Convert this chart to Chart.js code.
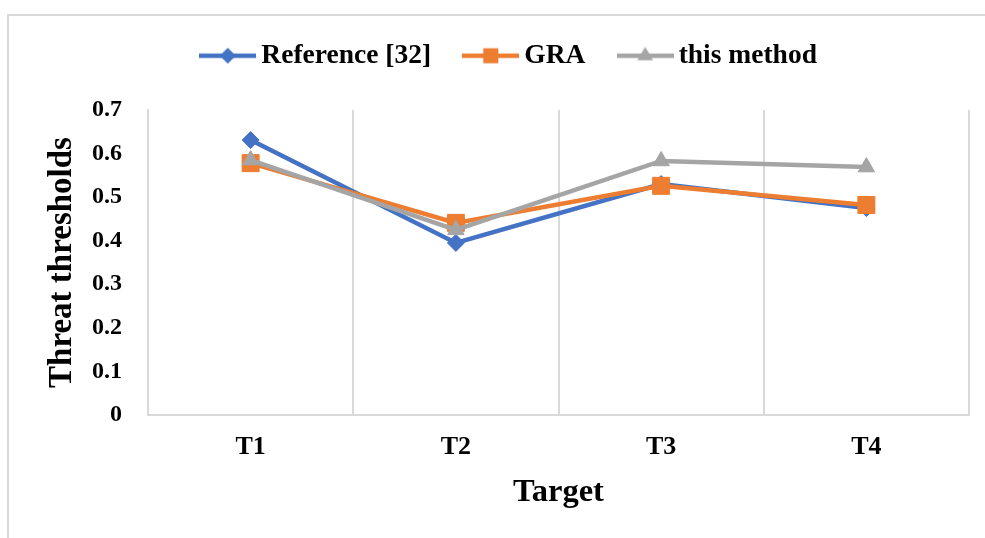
<!DOCTYPE html>
<html>
<head>
<meta charset="utf-8">
<script src="https://cdn.jsdelivr.net/npm/chart.js@4/dist/chart.umd.min.js"></script>
<style>
  html, body { margin: 0; padding: 0; background: #fff; overflow: hidden; }
  #wrap { position: relative; width: 985px; height: 538px; }
  #frame { position: absolute; left: 7px; top: 14px; width: 1000px; height: 600px; border: 2px solid #d9d9d9; box-sizing: border-box; }
  #c { position: absolute; left: 0; top: 0; }
</style>
</head>
<body>
<div id="wrap">
  <div id="frame"></div>
  <canvas id="c" width="985" height="538"></canvas>
</div>
<script>
const categories = ['T1', 'T2', 'T3', 'T4'];
const seriesNames = ['Reference [32]', 'GRA', 'this method'];
const referenceValues = [0.631, 0.395, 0.530, 0.475];
const graValues = [0.578, 0.441, 0.526, 0.482];
const methodValues = [0.585, 0.425, 0.583, 0.569];
const yTickLabels = ['0', '0.1', '0.2', '0.3', '0.4', '0.5', '0.6', '0.7'];

const BLUE = '#4472C4', ORANGE = '#ED7D31', GRAY = '#A5A5A5';
const FONT = 'Liberation Serif, Times New Roman, serif';

function makeIcon(color, shape) {
  const w = 57, h = 24;
  const cv = document.createElement('canvas');
  cv.width = w; cv.height = h;
  const ctx = cv.getContext('2d');
  const cy = h / 2, cx = w / 2;
  ctx.strokeStyle = color; ctx.fillStyle = color;
  ctx.lineWidth = 4.5;
  ctx.beginPath(); ctx.moveTo(0, cy); ctx.lineTo(w, cy); ctx.stroke();
  ctx.beginPath();
  if (shape === 'diamond') {
    const r = 8;
    ctx.moveTo(cx - r, cy); ctx.lineTo(cx, cy - r); ctx.lineTo(cx + r, cy); ctx.lineTo(cx, cy + r);
  } else if (shape === 'square') {
    const s = 7.5;
    ctx.rect(cx - s, cy - s, 2 * s, 2 * s);
  } else {
    const r = 9;
    ctx.moveTo(cx, cy - r); ctx.lineTo(cx + r * 0.866, cy + r * 0.5); ctx.lineTo(cx - r * 0.866, cy + r * 0.5);
  }
  ctx.closePath(); ctx.fill();
  return cv;
}
const icons = [makeIcon(BLUE, 'diamond'), makeIcon(ORANGE, 'square'), makeIcon(GRAY, 'triangle')];

const legendSpacer = {
  id: 'legendSpacer',
  beforeInit(chart) {
    const fit = chart.legend.fit;
    chart.legend.fit = function () { fit.call(this); this.height = 108; };
  }
};

new Chart(document.getElementById('c'), {
  type: 'line',
  data: {
    labels: categories,
    datasets: [
      { label: seriesNames[0], data: referenceValues, borderColor: BLUE, backgroundColor: BLUE,
        pointStyle: 'rectRot', pointRadius: 8.5, pointBorderWidth: 1, borderWidth: 4.5, order: 3 },
      { label: seriesNames[1], data: graValues, borderColor: ORANGE, backgroundColor: ORANGE,
        pointStyle: 'rect', pointRadius: 12, pointBorderWidth: 1, borderWidth: 4.5, order: 2 },
      { label: seriesNames[2], data: methodValues, borderColor: GRAY, backgroundColor: GRAY,
        pointStyle: 'triangle', pointRadius: 9.5, pointBorderWidth: 1, borderWidth: 4.5, order: 1 }
    ]
  },
  options: {
    responsive: false,
    animation: false,
    devicePixelRatio: 1,
    layout: { padding: { left: 56, right: 16, top: 2, bottom: 0 } },
    plugins: {
      tooltip: { enabled: false },
      legend: {
        position: 'top',
        labels: {
          usePointStyle: true,
          pointStyleWidth: 39.5,
          padding: 40,
          color: '#000',
          font: { family: FONT, size: 27.5, weight: 'bold' },
          generateLabels(chart) {
            const items = Chart.defaults.plugins.legend.labels.generateLabels(chart);
            items.forEach(it => { it.pointStyle = icons[it.datasetIndex]; });
            return items;
          },
          sort: (a, b) => a.datasetIndex - b.datasetIndex
        }
      }
    },
    scales: {
      x: {
        offset: true,
        afterFit(scale) { scale.height = 123; },
        grid: { display: true, offset: true, drawTicks: false, color: '#d9d9d9', lineWidth: 2 },
        border: { display: true, color: '#d9d9d9', width: 2 },
        ticks: { padding: 19.5, color: '#000', font: { family: FONT, size: 26, weight: 'bold', lineHeight: 1 } },
        title: { display: true, text: 'Target', color: '#000',
          font: { family: FONT, size: 32.5, weight: 'bold', lineHeight: 1 }, padding: { top: 0, bottom: 29 } }
      },
      y: {
        min: 0, max: 0.7,
        afterFit(scale) { scale.width = 92; },
        grid: { display: false, drawTicks: false },
        border: { display: true, color: '#d9d9d9', width: 2 },
        ticks: { stepSize: 0.1, padding: 26, color: '#000',
          font: { family: FONT, size: 24, weight: 'bold', lineHeight: 1 },
          callback: (v, i) => yTickLabels[i] },
        title: { display: true, text: 'Threat thresholds', color: '#000',
          font: { family: FONT, size: 33, weight: 'bold', lineHeight: 1 }, padding: { top: -10.5, bottom: 0 } }
      }
    }
  },
  plugins: [legendSpacer]
});
</script>
</body>
</html>
